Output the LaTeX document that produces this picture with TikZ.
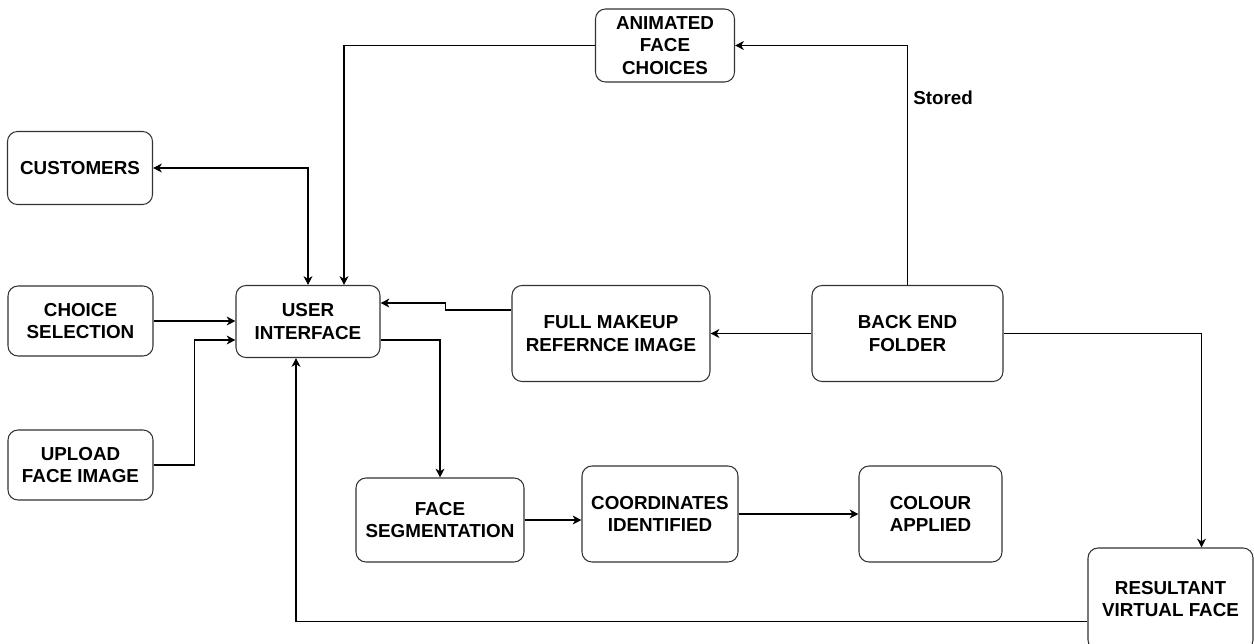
\documentclass[tikz,border=0pt]{standalone}
\usepackage{fontspec}
\setmainfont{Liberation Sans}
\usepackage{tikz}
\usetikzlibrary{arrows.meta}
\usetikzlibrary{calc}

\begin{document}
\begin{tikzpicture}[
  >={Stealth[length=5pt,width=5pt,inset=1.5pt]},
  line width=0.6pt,
  box/.style={draw=black!80, rounded corners=0.2cm, align=center,
    font=\fontsize{10.7}{12.8}\selectfont\bfseries, inner sep=2pt},
  flow/.style={->, black}
]
\useasboundingbox (0,0) rectangle (25.08,12.86);

% Left column
\node[box, minimum width=2.9cm, minimum height=1.46cm] (customers) at (1.6,9.5) {CUSTOMERS};
\node[box, minimum width=2.9cm, minimum height=1.4cm] (choice) at (1.61,6.44) {CHOICE\\SELECTION};
\node[box, minimum width=2.9cm, minimum height=1.4cm] (upload) at (1.61,3.56) {UPLOAD\\FACE IMAGE};

% User interface
\node[box, minimum width=2.88cm, minimum height=1.44cm] (ui) at (6.16,6.43) {USER\\INTERFACE};

% Top
\node[box, minimum width=2.78cm, minimum height=1.46cm] (animated) at (13.3,11.95) {ANIMATED\\FACE\\CHOICES};

% Middle row
\node[box, minimum width=3.96cm, minimum height=1.92cm] (full) at (12.22,6.19) {FULL MAKEUP\\REFERNCE IMAGE};
\node[box, minimum width=3.82cm, minimum height=1.92cm] (back) at (18.15,6.19) {BACK END\\FOLDER};

% Bottom row
\node[box, minimum width=3.36cm, minimum height=1.68cm] (faceseg) at (8.8,2.46) {FACE\\SEGMENTATION};
\node[box, minimum width=3.12cm, minimum height=1.92cm] (coord) at (13.2,2.58) {COORDINATES\\IDENTIFIED};
\node[box, minimum width=2.86cm, minimum height=1.92cm] (colour) at (18.61,2.58) {COLOUR\\APPLIED};
\node[box, minimum width=3.3cm, minimum height=2.04cm] (result) at (23.41,0.88) {RESULTANT\\VIRTUAL FACE};

% Connectors
\draw[<->] (customers.east) -| (ui.north);
\draw[flow] (animated.west) -| ([xshift=0.72cm]ui.north);
\draw[flow] (back.north) |- (animated.east)
  node[pos=0.39, right, inner sep=3pt, font=\fontsize{10.7}{12.8}\selectfont\bfseries] (stored) {Stored};
\draw[flow] (choice.east) -- (choice.east -| ui.west);
\draw[flow] (upload.east) -- ++(0.82,0) |- ([yshift=-0.37cm]ui.west);
\draw[flow] ([yshift=0.47cm]full.west) -- ++(-1.32,0) |- ([yshift=0.37cm]ui.east);
\draw[flow] (back.west) -- (full.east);
\draw[flow] ([yshift=-0.37cm]ui.east) -| (faceseg.north);
\draw[flow] (faceseg.east) -- (faceseg.east -| coord.west);
\draw[flow] (coord.east) -- (colour.west);
\draw[flow] (back.east) -| ([xshift=0.62cm]result.north);
\draw[flow] ([yshift=-0.45cm]result.west) -| ([xshift=-0.24cm]ui.south);
\end{tikzpicture}
\end{document}
